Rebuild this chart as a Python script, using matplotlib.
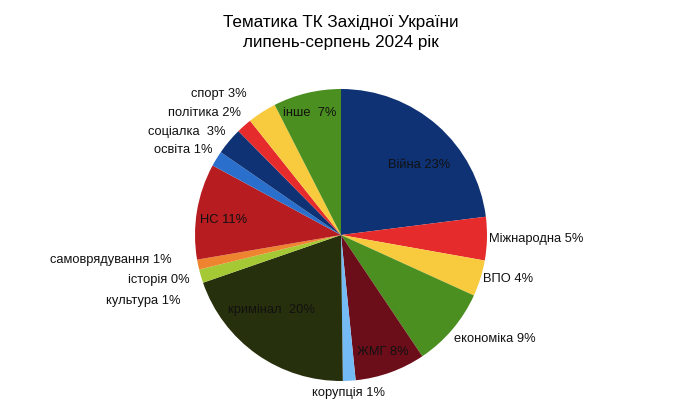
import matplotlib
matplotlib.use('Agg')
import matplotlib.pyplot as plt

plt.rcParams['font.family'] = ['Liberation Sans', 'DejaVu Sans']

# topics, clockwise from 12 o'clock
topics = ['Війна', 'Міжнародна', 'ВПО', 'економіка', 'ЖМГ', 'корупція',
          'кримінал ', 'культура', 'історія', 'самоврядування', 'НС',
          'освіта', 'соціалка ', 'політика', 'спорт', 'інше ']
shares = [23.0, 4.8, 4.0, 8.8, 7.8, 1.4, 19.9, 1.5, 0.0, 1.1, 10.6,
          1.7, 3.0, 1.7, 3.2, 7.5]
pct_shown = [23, 5, 4, 9, 8, 1, 20, 1, 0, 1, 11, 1, 3, 2, 3, 7]
colors = ['#0f3275', '#e52b2b', '#f8cb3e', '#4a8f1f', '#6b0e19', '#74baf5',
          '#27300c', '#a4c935', '#9c27b0', '#ee8430', '#b71c20',
          '#2a6fcb', '#0f3275', '#e52b2b', '#f8cb3e', '#4a8f1f']

# label anchor in pixels (x, y, horizontal alignment)
label_pos = [(419, 166, 'center'), (489, 240, 'left'), (483, 280, 'left'),
             (454, 340, 'left'), (383, 353, 'center'), (349, 394, 'center'),
             (271, 311, 'center'), (180, 302, 'right'), (190, 281, 'right'),
             (172, 261, 'right'), (224, 221, 'center'), (212, 151, 'right'),
             (225, 133, 'right'), (241, 114, 'right'), (247, 95, 'right'),
             (310, 114, 'center')]

W, H = 681, 414
cx, cy, R = 341, 236, 146

fig = plt.figure(figsize=(W / 100, H / 100), dpi=100)
ax = fig.add_axes([0, 0, 1, 1])
ax.pie(shares, colors=colors, startangle=90, counterclock=False,
       radius=1, center=(0, 0), wedgeprops=dict(linewidth=0))
ax.set_xlim(-cx / R, (W - cx) / R)
ax.set_ylim(-(H - cy) / R, cy / R)
ax.set_aspect('auto')
ax.axis('off')

for name, p, (px, py, ha) in zip(topics, pct_shown, label_pos):
    ax.text((px - cx) / R, (cy - py) / R + 0.01, f'{name} {p}%', ha=ha,
            va='center', fontsize=9.3, color='#111111')

fig.text(0.5, 1 - 23 / H, 'Тематика ТК Західної України', ha='center',
         va='center', fontsize=12.3)
fig.text(0.5, 1 - 43 / H, 'липень-серпень 2024 рік', ha='center',
         va='center', fontsize=12.3)

fig.savefig('out.png', dpi=100)
